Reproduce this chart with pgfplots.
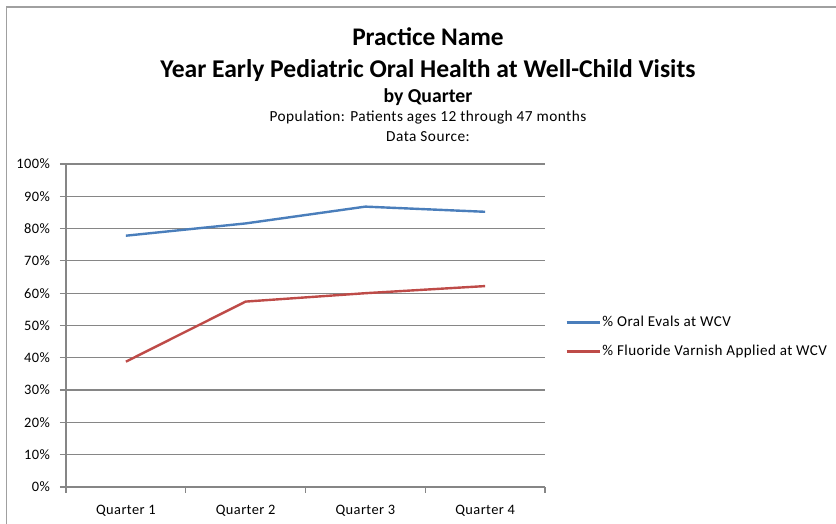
\documentclass[border=0pt]{standalone}
\usepackage{pgfplots}
\pgfplotsset{compat=1.18}
\usepackage{fontspec}
\setmainfont{Carlito}
\newfontfamily\wide{Carlito}[LetterSpace=3]
\definecolor{exblue}{HTML}{4A7EBB}
\definecolor{exred}{HTML}{BE4B48}
\definecolor{gridgray}{HTML}{868686}
\definecolor{bordergray}{HTML}{A0A0A0}
\begin{document}
\begin{tikzpicture}[x=1pt,y=1pt]
\path[use as bounding box] (0,0) rectangle (627,393);
\draw[bordergray, line width=1.2pt] (4.9,0) -- (4.9,387.9) -- (627,387.9);
\node[font=\fontsize{19}{21}\selectfont\bfseries] at (321,365.2) {Practice Name};
\node[font=\fontsize{19.2}{21}\selectfont\bfseries] at (321,339.8) {Year Early Pediatric Oral Health at Well-Child Visits};
\node[font=\fontsize{14.8}{17}\selectfont\bfseries] at (321,320) {by Quarter};
\node[font=\wide\fontsize{11.5}{13}\selectfont] at (321,305) {Population: Patients ages 12 through 47 months};
\node[font=\wide\fontsize{11.5}{13}\selectfont] at (321,290.5) {Data Source:};
\begin{axis}[
  at={(49.5pt,27.75pt)}, anchor=south west,
  scale only axis, width=359.25pt, height=242.25pt,
  xmin=0.5, xmax=4.5, ymin=0, ymax=100,
  xtick={1,2,3,4},
  xticklabels={Quarter 1,Quarter 2,Quarter 3,Quarter 4},
  minor xtick={0.5,1.5,2.5,3.5,4.5},
  ytick={0,10,...,100},
  yticklabel={\pgfmathprintnumber{\tick}\%},
  /pgf/number format/assume math mode=true,
  tick label style={font=\wide\fontsize{10.8}{12}\selectfont, text=black},
  y tick label style={xshift=-4pt},
  x tick label style={yshift=-5.5pt},
  axis x line*=bottom, axis y line*=left,
  axis line style={gridgray, line width=0.9pt, -},
  tick align=outside,
  major tick length=4.5pt, minor tick length=4.5pt,
  major x tick style={draw=none},
  tick style={gridgray, line width=0.9pt},
  ymajorgrids, grid style={gridgray, line width=0.9pt},
  xtick pos=bottom,
  legend style={at={(1.042,0.464)}, anchor=west, draw=none, fill=none,
    font=\wide\fontsize{11.3}{12}\selectfont, row sep=8.5pt, inner xsep=0pt,
    nodes={inner xsep=1pt}},
  legend cell align=left,
  legend image code/.code={\draw[#1] (0pt,0pt) -- (25pt,0pt);},
]
\addplot[exblue, line width=1.8pt] coordinates {(1,77.8) (2,81.6) (3,86.8) (4,85.2)};
\addlegendentry{\% Oral Evals at WCV}
\addplot[exred, line width=1.8pt] coordinates {(1,38.8) (2,57.4) (3,60.0) (4,62.2)};
\addlegendentry{\% Fluoride Varnish Applied at WCV}
\end{axis}
\end{tikzpicture}
\end{document}
